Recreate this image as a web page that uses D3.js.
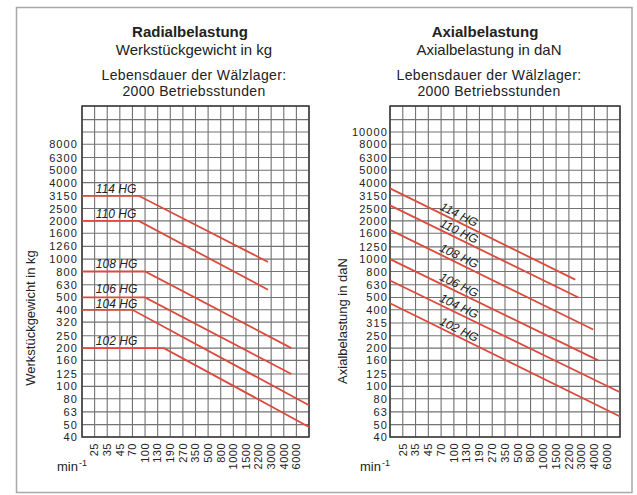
<!DOCTYPE html>
<html>
<head>
<meta charset="utf-8">
<script src="https://cdn.jsdelivr.net/npm/d3@7/dist/d3.min.js"></script>
<style>
  html, body { margin: 0; padding: 0; background: #fff; }
  svg { display: block; font-family: "Liberation Sans", Arial, Helvetica, sans-serif; }
</style>
</head>
<body>
<svg id="chart" width="637" height="495"></svg>
<script>
// Speed axis (min^-1): labelled grid columns, plus the values assumed at the plot borders
const rpmTicks = [25, 35, 45, 70, 100, 130, 190, 270, 350, 500, 800, 1000, 1500, 2200, 3000, 4000, 6000];
const rpmBorders = [20, 8000];

// Load axes (R10 steps)
const radialTicks = [40, 50, 63, 80, 100, 125, 160, 200, 250, 320, 400, 500, 630, 800, 1000, 1260, 1600, 2000, 2500, 3150, 4000, 5000, 6300, 8000];
const radialExtraGrid = [10000, 12500, 16000];
const axialTicks = [40, 50, 63, 80, 100, 125, 160, 200, 250, 315, 400, 500, 630, 800, 1000, 1250, 1600, 2000, 2500, 3150, 4000, 5000, 6300, 8000, 10000];
const axialExtraGrid = [12500, 16000];

// Radial load limit (kg) per spindle size: [rpm, kg]
const radialNames = ["114 HG", "110 HG", "108 HG", "106 HG", "104 HG", "102 HG"];
const radialPoints = [
  [[20, 3150], [85, 3150], [2800, 950]],
  [[20, 2000], [85, 2000], [2800, 575]],
  [[20, 800], [100, 800], [5200, 200]],
  [[20, 500], [100, 500], [5200, 125]],
  [[20, 400], [70, 400], [8000, 71]],
  [[20, 200], [160, 200], [8000, 48]]
];

// Axial load limit (daN) per spindle size: [rpm, daN]
const axialNames = ["114 HG", "110 HG", "108 HG", "106 HG", "104 HG", "102 HG"];
const axialPoints = [
  [[20, 3600], [2600, 690]],
  [[20, 2650], [2800, 500]],
  [[20, 1700], [3900, 280]],
  [[20, 1000], [4600, 160]],
  [[20, 680], [8000, 90]],
  [[20, 450], [8000, 58]]
];

const svg = d3.select("#chart");
const INK = "#222";
const RED = "#dc4a3d";

// outer frame
svg.append("rect")
  .attr("x", 16.5).attr("y", 7.5).attr("width", 615.5).attr("height", 485)
  .attr("fill", "#fff").attr("stroke", "#a9a9a9").attr("stroke-width", 1.5);

function drawPanel(cfg) {
  const g = svg.append("g");
  const xDomain = [rpmBorders[0], ...rpmTicks, rpmBorders[1]];
  const colW = (cfg.x1 - cfg.x0) / (xDomain.length - 1);
  const x = d3.scaleLinear()
    .domain(xDomain)
    .range(xDomain.map((d, i) => cfg.x0 + i * colW));
  const y = d3.scaleLog().domain([40, 16000]).range([cfg.y1, cfg.y0]);

  // titles
  const t = g.append("g").attr("fill", INK).attr("text-anchor", "middle");
  t.append("text").attr("x", cfg.titleX - 4).attr("y", 36.5).attr("font-size", 15).attr("font-weight", "bold").text(cfg.title);
  t.append("text").attr("x", cfg.titleX).attr("y", 55).attr("font-size", 15).text(cfg.subtitle);
  t.append("text").attr("x", cfg.titleX).attr("y", 79.5).attr("font-size", 14).attr("letter-spacing", 0.35).text("Lebensdauer der Wälzlager:");
  t.append("text").attr("x", cfg.titleX).attr("y", 95.5).attr("font-size", 14).attr("letter-spacing", 0.35).text("2000 Betriebsstunden");

  // grid
  const grid = g.append("g").attr("stroke", "#727272").attr("stroke-width", 1.1);
  grid.selectAll("line.v").data(xDomain).join("line").attr("class", "v")
    .attr("x1", d => x(d)).attr("x2", d => x(d))
    .attr("y1", cfg.y0).attr("y2", cfg.y1);
  grid.selectAll("line.h").data([...cfg.ticks, ...cfg.extra]).join("line").attr("class", "h")
    .attr("x1", cfg.x0).attr("x2", cfg.x1)
    .attr("y1", d => y(d)).attr("y2", d => y(d));
  g.append("rect")
    .attr("x", cfg.x0).attr("y", cfg.y0)
    .attr("width", cfg.x1 - cfg.x0).attr("height", cfg.y1 - cfg.y0)
    .attr("fill", "none").attr("stroke", "#3a3a3a").attr("stroke-width", 1.5);

  // y axis
  const ya = g.append("g").attr("transform", `translate(${cfg.x0},0)`)
    .call(d3.axisLeft(y).tickValues(cfg.ticks).tickFormat(d3.format("d")).tickSize(0).tickPadding(cfg.yPad));
  ya.select(".domain").remove();
  ya.attr("font-family", null);
  ya.selectAll("text").attr("font-size", 11).attr("letter-spacing", 1.1).attr("fill", INK);

  // x axis
  const xa = g.append("g").attr("transform", `translate(0,${cfg.y1})`)
    .call(d3.axisBottom(x).tickValues(rpmTicks).tickFormat(d3.format("d")).tickSize(0));
  xa.select(".domain").remove();
  xa.attr("font-family", null);
  xa.selectAll("text")
    .attr("font-size", 11).attr("letter-spacing", 0.5).attr("fill", INK)
    .attr("transform", "rotate(-90)")
    .attr("text-anchor", "end")
    .attr("x", -6).attr("y", 0).attr("dy", "0.3em");

  // unit label
  const u = g.append("text").attr("x", cfg.unitX).attr("y", 471).attr("font-size", 13).attr("fill", INK);
  u.append("tspan").text("min");
  u.append("tspan").attr("font-size", 9).attr("dx", 1).attr("dy", -5).text("-1");

  // axis title
  g.append("text")
    .attr("transform", `translate(${cfg.axisTitleX},${cfg.axisTitleY}) rotate(-90)`)
    .attr("text-anchor", "middle").attr("font-size", 13).attr("fill", INK)
    .text(cfg.axisTitle);

  // limit curves
  const line = d3.line().x(d => x(d[0])).y(d => y(d[1]));
  g.append("g").selectAll("path").data(cfg.points).join("path")
    .attr("d", line).attr("fill", "none")
    .attr("stroke", RED).attr("stroke-width", 1.8);

  // curve labels
  const lbl = g.append("g").attr("font-size", 12).attr("font-style", "italic").attr("fill", INK);
  cfg.points.forEach((pts, i) => {
    if (cfg.rotated) {
      const [a, b] = [pts[0], pts[pts.length - 1]];
      const ax = x(a[0]), ay = y(a[1]), bx = x(b[0]), by = y(b[1]);
      const px = x(cfg.labelRpm);
      const py = ay + (by - ay) * (px - ax) / (bx - ax);
      const ang = Math.atan2(by - ay, bx - ax) * 180 / Math.PI;
      lbl.append("text")
        .attr("transform", `translate(${px},${py}) rotate(${ang})`)
        .attr("text-anchor", "middle").attr("y", -3)
        .text(cfg.names[i]);
    } else {
      lbl.append("text")
        .attr("x", x(cfg.labelRpm)).attr("y", y(pts[0][1]) - cfg.labelLift[i])
        .text(cfg.names[i]);
    }
  });
}

drawPanel({
  x0: 82, x1: 309, y0: 106, y1: 437, titleX: 194, yPad: 4,
  title: "Radialbelastung", subtitle: "Werkstückgewicht in kg",
  ticks: radialTicks, extra: radialExtraGrid,
  axisTitle: "Werkstückgewicht in kg", axisTitleX: 35, axisTitleY: 318,
  unitX: 57, names: radialNames, points: radialPoints,
  rotated: false, labelRpm: 26, labelLift: [3, 3, 4, 4.5, 2, 3]
});

drawPanel({
  x0: 390, x1: 620, y0: 106, y1: 437, titleX: 489, yPad: 2,
  title: "Axialbelastung", subtitle: "Axialbelastung in daN",
  ticks: axialTicks, extra: axialExtraGrid,
  axisTitle: "Axialbelastung in daN", axisTitleX: 347, axisTitleY: 321,
  unitX: 360, names: axialNames, points: axialPoints,
  rotated: true, labelRpm: 105
});
</script>
</body>
</html>
